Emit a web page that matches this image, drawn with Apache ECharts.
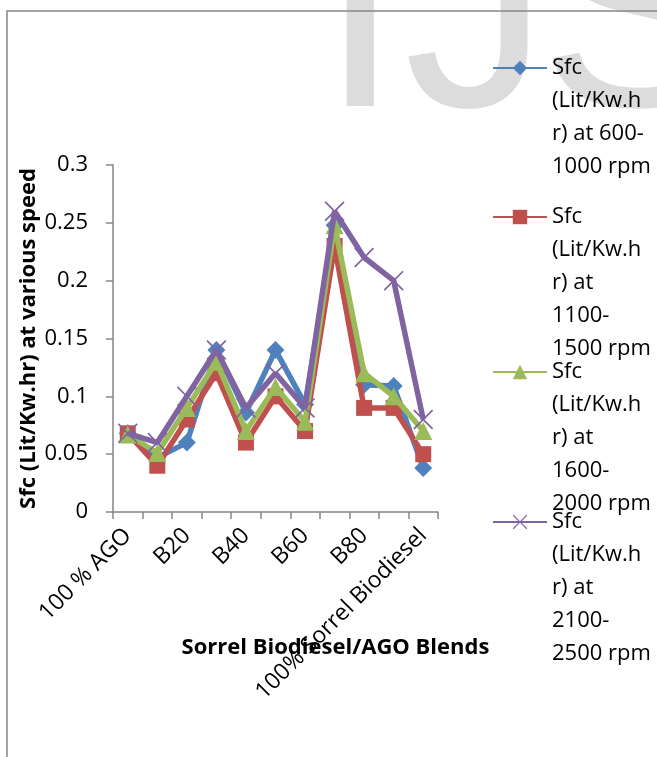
<!DOCTYPE html>
<html>
<head>
<meta charset="utf-8">
<script src="https://cdn.jsdelivr.net/npm/echarts@6/dist/echarts.min.js"></script>
<style>
  html, body { margin: 0; padding: 0; background: #fff; }
  #chart { width: 657px; height: 757px; }
</style>
</head>
<body>
<div id="chart"></div>
<script>
// blends on the x axis
var blends = ['100 % AGO', 'B10', 'B20', 'B30', 'B40', 'B50', 'B60', 'B70', 'B80', 'B90', '100% Sorrel Biodiesel'];

// sfc values per speed range (Lit/Kw.hr)
var sfc600 = [0.068, 0.047, 0.06, 0.14, 0.086, 0.14, 0.093, 0.248, 0.11, 0.109, 0.038];
var sfc1100 = [0.068, 0.04, 0.08, 0.12, 0.06, 0.1, 0.07, 0.23, 0.09, 0.09, 0.05];
var sfc1600 = [0.067, 0.051, 0.09, 0.13, 0.07, 0.108, 0.078, 0.248, 0.12, 0.1, 0.07];
var sfc2100 = [0.068, 0.06, 0.1, 0.14, 0.09, 0.12, 0.09, 0.26, 0.22, 0.2, 0.08];

var seriesNames = [
    'Sfc (Lit/Kw.hr) at 600-1000 rpm',
    'Sfc (Lit/Kw.hr) at 1100-1500 rpm',
    'Sfc (Lit/Kw.hr) at 1600-2000 rpm',
    'Sfc (Lit/Kw.hr) at 2100-2500 rpm'
];
// legend text wraps like in the original
var legendLabels = [
    'Sfc\n(Lit/Kw.h\nr) at 600-\n1000 rpm',
    'Sfc\n(Lit/Kw.h\nr) at\n1100-\n1500 rpm',
    'Sfc\n(Lit/Kw.h\nr) at\n1600-\n2000 rpm',
    'Sfc\n(Lit/Kw.h\nr) at\n2100-\n2500 rpm'
];
var yTicks = ['0', '0.05', '0.1', '0.15', '0.2', '0.25', '0.3'];

var colors = ['#4F81BD', '#C0504D', '#9BBB59', '#8064A2'];
var crossPath = 'path://M0,1.2 L1.2,0 L10,8.8 L18.8,0 L20,1.2 L11.2,10 L20,18.8 L18.8,20 L10,11.2 L1.2,20 L0,18.8 L8.8,10 Z';
var symbols = ['diamond', 'rect', 'triangle', crossPath];
var symbolSizes = [18, 16, 18, 20];
var allData = [sfc600, sfc1100, sfc1600, sfc2100];

var font = 'Open Sans';
var lineH = 33;
var legendY = [68, 217, 372, 522];

var chart = echarts.init(document.getElementById('chart'));

// icon sits on the first text line: pad the label with empty lines above
var legends = seriesNames.map(function (name, i) {
    var n = legendLabels[i].split('\n').length;
    var h = (2 * n - 1) * lineH;
    var pad = new Array(n).join('\n');
    return {
        data: [name],
        left: 492,
        top: legendY[i] - h / 2,
        padding: 0,
        itemWidth: 54,
        itemHeight: 18,
        formatter: function (nm) { return pad + legendLabels[seriesNames.indexOf(nm)]; },
        textStyle: {
            fontFamily: font,
            fontSize: 22,
            color: '#000',
            lineHeight: lineH
        }
    };
});

var series = seriesNames.map(function (name, i) {
    return {
        name: name,
        type: 'line',
        data: allData[i],
        symbol: symbols[i],
        symbolSize: symbolSizes[i],
        showAllSymbol: true,
        lineStyle: { color: colors[i], width: 5.5 },
        itemStyle: { color: colors[i] },
        emphasis: { disabled: true },
        z: 2 + i
    };
});

var wmFont = '290px "Liberation Sans"';
var option = {
    animation: false,
    backgroundColor: '#fff',
    textStyle: { fontFamily: font },
    graphic: [
        // faint watermark letters behind the chart
        { type: 'text', z: -10, left: 320, top: -119, style: { text: 'I', font: wmFont, fill: '#dcdcdc' } },
        { type: 'text', z: -10, left: 404, top: -119, style: { text: 'J', font: wmFont, fill: '#dcdcdc' } },
        { type: 'text', z: -10, left: 540, top: -119, style: { text: 'S', font: wmFont, fill: '#dcdcdc' } },
        // chart area frame
        { type: 'rect', z: -5, shape: { x: 7, y: 11, width: 700, height: 800 }, style: { fill: 'none', stroke: '#868686', lineWidth: 1.5 } }
    ],
    legend: legends,
    grid: { left: 113, right: 219, top: 165, bottom: 245 },
    xAxis: {
        type: 'category',
        data: blends,
        boundaryGap: true,
        name: 'Sorrel Biodiesel/AGO Blends',
        nameLocation: 'middle',
        nameGap: 125,
        nameMoveOverlap: false,
        nameTextStyle: { fontFamily: font, fontSize: 22, fontWeight: 'bold', color: '#000', padding: [0, 0, 0, 120] },
        axisLine: { lineStyle: { color: '#868686', width: 1.5 } },
        axisTick: { show: true, interval: 0, length: 7, lineStyle: { color: '#868686', width: 1.5 } },
        axisLabel: { interval: 1, rotate: 45, margin: 20, fontFamily: font, fontSize: 23, color: '#000' },
        splitLine: { show: false }
    },
    yAxis: {
        type: 'value',
        min: 0,
        max: 0.3,
        interval: 0.05,
        name: 'Sfc (Lit/Kw.hr) at various speed',
        nameLocation: 'middle',
        nameRotate: 90,
        nameGap: 73,
        nameMoveOverlap: false,
        nameTextStyle: { fontFamily: font, fontSize: 22, fontWeight: 'bold', color: '#000' },
        axisLine: { show: true, lineStyle: { color: '#868686', width: 1.5 } },
        axisTick: { show: true, length: 7, lineStyle: { color: '#868686', width: 1.5 } },
        axisLabel: {
            margin: 25,
            fontFamily: font,
            fontSize: 22,
            color: '#000',
            formatter: function (v) { return yTicks[Math.round(v / 0.05)]; }
        },
        splitLine: { show: false }
    },
    series: series
};

chart.setOption(option);
</script>
</body>
</html>
